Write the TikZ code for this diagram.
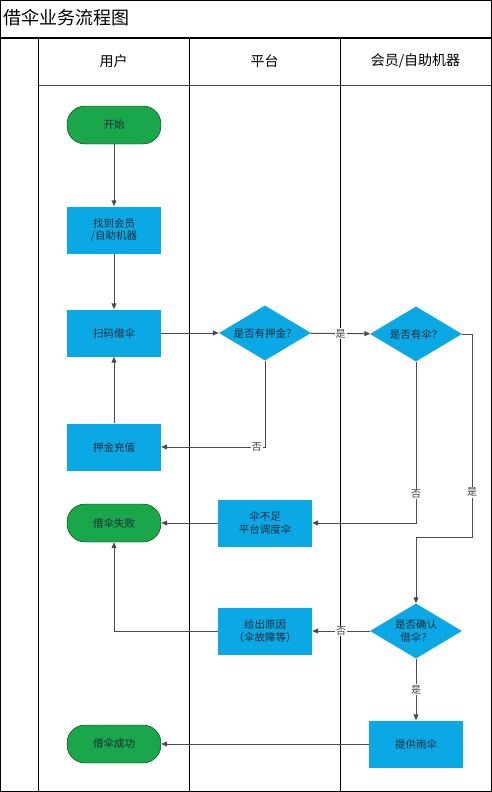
\documentclass[tikz,border=0pt]{standalone}
\usepackage{fontspec}
\setmainfont{Noto Sans CJK SC}
\usetikzlibrary{arrows.meta,positioning,shapes.geometric}
\definecolor{procblue}{HTML}{0BA8E6}
\definecolor{termgreen}{HTML}{1AA64A}
\definecolor{textdark}{HTML}{1E2A36}

\begin{document}
\begin{tikzpicture}[
  x=1pt, y=-1pt,
  >={Triangle[length=6pt,width=5pt]},
  every node/.style={font=\fontsize{10.5}{12.5}\selectfont, text=textdark},
  proc/.style={rectangle, fill=procblue, minimum width=94pt, minimum height=47pt, align=center, inner sep=1pt},
  term/.style={rectangle, rounded corners=18pt, fill=termgreen, draw=black!80!green, thin, minimum width=94pt, minimum height=38pt},
  decide/.style={diamond, fill=procblue, minimum width=92pt, minimum height=55pt, inner sep=0pt, aspect=1.67, align=center},
  flow/.style={draw=black!70, line width=1pt, ->},
  lbl/.style={fill=white, inner sep=1pt, text=black!75, font=\fontsize{10}{12}\selectfont}]

\useasboundingbox (0,0) rectangle (492,792);

% --- Swimlane table ---
\draw[line width=1pt] (0.5,0.5) rectangle (491.5,791.5);
\draw[line width=2pt] (0,38) -- (492,38);
\draw[line width=1pt] (38,38) -- (38,792)  (189,38) -- (189,792)  (340,38) -- (340,792);
\draw[black!75,line width=0.8pt] (38,85) -- (492,85);

\node[anchor=west, inner sep=0pt, text=black, font=\fontsize{18}{20}\selectfont] (title) at (3,18) {借伞业务流程图};
\node[text=black, font=\fontsize{14}{16}\selectfont] (laneU) at (113.5,61) {用户};
\node[text=black, font=\fontsize{14}{16}\selectfont] (laneP) at (264.5,61) {平台};
\node[text=black, font=\fontsize{14}{16}\selectfont] (laneM) at (415.5,61) {会员/自助机器};

% --- Steps ---
\node[term]   (start)   at (114,125) {开始};
\node[proc]   (find)    at (114,230) {找到会员\\/自助机器};
\node[proc]   (scan)    at (114,333) {扫码借伞};
\node[decide] (deposit) at (265,333) {是否有押金？};
\node[decide] (haveU)   at (416,334) {是否有伞？};
\node[proc]   (recharge) at (114,447) {押金充值};
\node[term]   (fail)    at (114,523) {借伞失败};
\node[proc]   (short)   at (265,523) {伞不足\\平台调度伞};
\node[decide] (confirm) at (416,631) {是否确认\\借伞？};
\node[proc]   (reason)  at (265,631) {给出原因\\（伞故障等）};
\node[proc]   (give)    at (416,744) {提供雨伞};
\node[term]   (success) at (114,744) {借伞成功};

% --- Connectors ---
\draw[flow] (start) -- (find);
\draw[flow] (find) -- (scan);
\draw[flow] (scan) -- (deposit);
\draw[flow] (deposit) -- node[lbl] {是} (haveU);
\draw[flow] (deposit.south) |- node[lbl,pos=0.54] {否} (recharge.east);
\draw[flow] (recharge) -- (scan);
\draw[flow] (haveU.south) |- node[lbl,pos=0.41] {否} (short.east);
\draw[flow] (haveU.east) -- ++(10,0) |- node[lbl,pos=0.39] {是} (416,537) -- (confirm.north);
\draw[flow] (short) -- (fail);
\draw[flow] (confirm) -- node[lbl] {否} (reason);
\draw[flow] (reason.west) -| (fail.south);
\draw[flow] (confirm) -- node[lbl] {是} (give);
\draw[flow] (give) -- (success);

\end{tikzpicture}
\end{document}
